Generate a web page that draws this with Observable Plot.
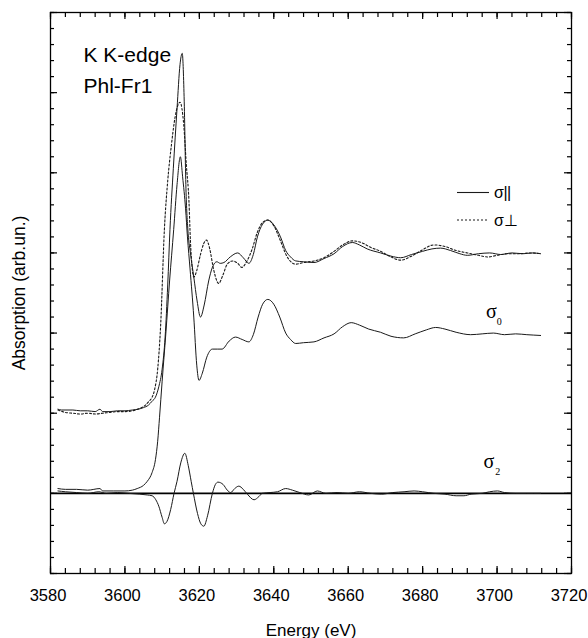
<!DOCTYPE html>
<html>
<head>
<meta charset="utf-8">
<script src="https://cdn.jsdelivr.net/npm/d3@7"></script>
<script src="https://cdn.jsdelivr.net/npm/@observablehq/plot@0.6"></script>
<style>
  html, body { margin: 0; padding: 0; background: #fff; }
  #wrap { position: relative; width: 588px; height: 638px; overflow: hidden; font-family: 'Liberation Sans', Arial, Helvetica, sans-serif; }
  #legend { position: absolute; left: 0; top: 0; pointer-events: none; }
</style>
</head>
<body>
<div id="wrap"><div id="chart"></div>
<svg id="legend" width="588" height="638"></svg></div>
<script>
// ---- data (energy eV, absorption arb. units) ----
const sigmaPar = [
[3582,1.05],[3583,1.04],[3586,1.04],[3588,1.03],[3590,1.03],[3592,1.02],[3593.3,1.05],[3594,1.02],[3596,1.02],[3598,1.03],[3600,1.03],[3602,1.04],[3603.5,1.05],[3605,1.07],[3606.3,1.1],[3607.3,1.15],[3608.2,1.2],[3609.1,1.33],[3610,1.55],[3610.8,1.95],[3611.5,2.6],[3612.1,3.29],[3613,4.05],[3614,4.8],[3614.8,5.35],[3615.4,5.49],[3615.9,4.95],[3616.4,3.8],[3616.9,3.3],[3617.6,3.0],[3618.5,2.7],[3619.4,2.4],[3620.3,2.2],[3621.3,2.35],[3622.5,2.65],[3623.5,2.82],[3624.7,2.89],[3625.6,2.87],[3626.6,2.88],[3628.3,2.95],[3630.3,3.0],[3631.8,2.94],[3633.3,2.87],[3634.5,2.98],[3635.6,3.2],[3637,3.36],[3638.4,3.41],[3640,3.35],[3641.8,3.2],[3643.2,3.03],[3644.5,2.95],[3645.9,2.9],[3648,2.89],[3650.8,2.88],[3653.5,2.93],[3656.2,2.99],[3658.5,3.08],[3661.1,3.13],[3663,3.1],[3665.1,3.05],[3668.7,3.0],[3671.5,2.96],[3674.1,2.94],[3677,2.98],[3680,3.02],[3682.5,3.05],[3684.8,3.06],[3687.5,3.03],[3690,2.99],[3692,2.97],[3695,2.99],[3698,3.0],[3701,2.98],[3704,3.0],[3707,2.99],[3709.5,3.0],[3711.7,2.99]
];
const sigmaPerp = [
[3582,1.04],[3584,1.01],[3586,1.0],[3588,0.99],[3590,1.0],[3592,0.99],[3594,1.0],[3596,1.01],[3598,1.02],[3600,1.02],[3602,1.03],[3604,1.06],[3605.5,1.1],[3606.5,1.15],[3607.3,1.2],[3608,1.3],[3608.8,1.55],[3609.6,2.1],[3610.6,3.29],[3611.5,3.9],[3612.5,4.35],[3613.5,4.7],[3614.8,4.88],[3615.8,4.6],[3616.5,4.1],[3617.2,3.65],[3617.6,3.15],[3618.0,2.85],[3618.5,2.7],[3619.3,2.78],[3620.3,2.98],[3621.2,3.12],[3621.9,3.16],[3622.8,3.05],[3623.8,2.8],[3625.2,2.62],[3626.3,2.72],[3627.5,2.86],[3629,2.9],[3630.3,2.87],[3631.4,2.82],[3632.8,2.9],[3634.2,3.05],[3635.6,3.26],[3637,3.38],[3638.4,3.41],[3640,3.34],[3641.8,3.15],[3643.5,2.96],[3645.9,2.86],[3648,2.88],[3650.8,2.9],[3653.5,2.94],[3656.2,3.02],[3658.5,3.1],[3661.1,3.15],[3663.5,3.13],[3666,3.07],[3668.7,3.02],[3671.5,2.95],[3674.1,2.91],[3677,2.96],[3680,3.04],[3683,3.1],[3686,3.08],[3689,3.03],[3692,3.0],[3695,2.97],[3697.5,2.95],[3700,2.97],[3703,2.99],[3706,2.99],[3709,3.0],[3711.7,2.99]
];
const sigma0 = [
[3582,0.06],[3584,0.05],[3587,0.05],[3590,0.04],[3593.3,0.06],[3594,0.03],[3597,0.03],[3600,0.03],[3602,0.04],[3603.3,0.06],[3605,0.1],[3606,0.15],[3607.3,0.26],[3608.2,0.42],[3608.8,0.65],[3609.3,0.95],[3610,1.4],[3611,2.0],[3612,2.65],[3613.1,3.29],[3614,3.85],[3614.9,4.2],[3615.5,3.95],[3616.3,3.55],[3616.8,3.2],[3617.5,2.8],[3618.5,2.2],[3619.3,1.6],[3619.9,1.41],[3620.8,1.5],[3622,1.7],[3623.5,1.8],[3624.8,1.8],[3626.1,1.8],[3628,1.9],[3629.7,1.95],[3631.5,1.92],[3633.3,1.89],[3634.5,1.98],[3635.8,2.2],[3637,2.36],[3638.4,2.42],[3640,2.36],[3641.6,2.2],[3643.2,2.0],[3644.5,1.92],[3645.9,1.87],[3648,1.88],[3650.8,1.89],[3653.5,1.94],[3656.2,1.99],[3658.5,2.08],[3660.8,2.13],[3663,2.1],[3665.5,2.05],[3668.7,2.01],[3671.5,1.96],[3674.9,1.94],[3678,1.99],[3681,2.04],[3683.5,2.07],[3686,2.05],[3689,2.01],[3692.9,1.98],[3696,1.99],[3699,2.0],[3702,1.98],[3705,1.99],[3708,1.98],[3711.7,1.97]
];
const sigma2 = [
[3582,0.03],[3584,0.02],[3587,0.01],[3590,0.0],[3593,0.02],[3595,0.0],[3598,0.01],[3601,0.0],[3604,-0.01],[3606,-0.02],[3607.3,-0.03],[3608.3,-0.08],[3609.1,-0.16],[3610,-0.3],[3610.6,-0.38],[3611.3,-0.35],[3612.3,-0.2],[3613.2,0.0],[3614,0.15],[3615,0.38],[3616.1,0.5],[3617,0.35],[3617.8,0.15],[3618.4,0.0],[3619.5,-0.25],[3620.4,-0.38],[3621.2,-0.41],[3622.2,-0.28],[3623.5,0.0],[3624.3,0.11],[3625,0.14],[3626.4,0.11],[3627.5,0.04],[3628.4,0.01],[3629.5,0.06],[3630.6,0.09],[3631.8,0.05],[3632.9,-0.01],[3634.7,-0.08],[3636,-0.04],[3636.9,0.0],[3639,0.01],[3641,0.02],[3643.2,0.06],[3645,0.04],[3647,0.01],[3649.4,-0.02],[3651.7,0.03],[3654,0.0],[3657,0.01],[3660,0.0],[3663,0.02],[3666,0.0],[3669,-0.01],[3672,0.01],[3675,0.02],[3677.7,0.03],[3680,0.02],[3683,0.0],[3686,-0.01],[3689,-0.03],[3691.1,-0.03],[3693,-0.01],[3696,0.0],[3698,0.02],[3700.1,0.03],[3702,0.01],[3705,0.0],[3708,0.0],[3711.7,0.0]
];

const xMajorTicks = [3580, 3600, 3620, 3640, 3660, 3680, 3700, 3720];
const xMinorTicks = d3.range(3580, 3721, 4);
const yMajorTicks = [-1, 0, 1, 2, 3, 4, 5, 6];
const yMinorTicks = d3.range(-1, 6.001, 0.2).map(v => +v.toFixed(2));

const titleLines = ["K K-edge\nPhl-Fr1"];
const xLabel = "Energy (eV)";
const yLabel = "Absorption (arb.un.)";
const curveLabels = [
  {name: "σ", sub: "0", x: 3698.5, y: 2.27, xs: 3700.6, ys: 2.14},
  {name: "σ", sub: "2", x: 3697.8, y: 0.40, xs: 3700.2, ys: 0.27}
];
const legendItems = [
  {label: "σ||", dash: null},
  {label: "σ⊥", dash: "2,2"}
];

const toObj = arr => arr.map(([e, v]) => ({e, v}));
const ink = "#1a1a1a";

const W = 588, H = 638, mT = 12, mB = 65, mL = 50, mR = 17;
const innerW = W - mL - mR, innerH = H - mT - mB;
const minorLen = 5, majorLen = 7, yMinorLen = 4, yMajorLen = 7;
const tickStyle = {stroke: "#000", strokeWidth: 1.2};

const plot = Plot.plot({
  width: W,
  height: H,
  marginTop: mT,
  marginBottom: mB,
  marginLeft: mL,
  marginRight: mR,
  x: {domain: [3580, 3720], axis: null},
  y: {domain: [-1, 6], axis: null},
  style: {fontFamily: "'Liberation Sans', Arial, Helvetica, sans-serif", fontSize: "16.5px", color: "#000", background: "#fff"},
  marks: [
    Plot.ruleY([0], {stroke: "#000", strokeWidth: 1.6}),
    Plot.line(toObj(sigma2), {x: "e", y: "v", stroke: ink, strokeWidth: 1, curve: "monotone-x"}),
    Plot.line(toObj(sigma0), {x: "e", y: "v", stroke: ink, strokeWidth: 1, curve: "monotone-x"}),
    Plot.line(toObj(sigmaPerp), {x: "e", y: "v", stroke: ink, strokeWidth: 1.1, strokeDasharray: "2,2", curve: "monotone-x"}),
    Plot.line(toObj(sigmaPar), {x: "e", y: "v", stroke: ink, strokeWidth: 1, curve: "monotone-x"}),
    // inward ticks on all four sides
    Plot.tickX(xMinorTicks, {x: d => d, insetTop: innerH - minorLen, ...tickStyle}),
    Plot.tickX(xMajorTicks, {x: d => d, insetTop: innerH - majorLen, ...tickStyle}),
    Plot.tickX(xMinorTicks, {x: d => d, insetBottom: innerH - minorLen, ...tickStyle}),
    Plot.tickX(xMajorTicks, {x: d => d, insetBottom: innerH - majorLen, ...tickStyle}),
    Plot.tickY(yMinorTicks, {y: d => d, insetRight: innerW - yMinorLen, ...tickStyle}),
    Plot.tickY(yMajorTicks, {y: d => d, insetRight: innerW - yMajorLen, ...tickStyle}),
    Plot.tickY(yMinorTicks, {y: d => d, insetLeft: innerW - yMinorLen, ...tickStyle}),
    Plot.tickY(yMajorTicks, {y: d => d, insetLeft: innerW - yMajorLen, ...tickStyle}),
    // tick labels
    Plot.axisX(xMajorTicks, {anchor: "bottom", tickSize: 0, tickPadding: 16, dx: -2.5, tickFormat: d => String(d), label: null, fontSize: 16.5, fill: "#000"}),
    Plot.frame({stroke: "#000", strokeWidth: 1.3}),
    // axis titles
    Plot.text([xLabel], {frameAnchor: "bottom", dy: 62, fontSize: 17, fill: "#000"}),
    Plot.text([yLabel], {frameAnchor: "left", dx: -31, rotate: -90, textAnchor: "middle", fontSize: 17.5, fill: "#000"}),
    // sample title
    Plot.text(titleLines, {frameAnchor: "top-left", dx: 33, dy: 27, textAnchor: "start", lineAnchor: "top", lineHeight: 1.48, fontSize: 21, fill: "#000"}),
    // curve labels
    Plot.text(curveLabels, {x: "x", y: "y", text: "name", fontSize: 20, fontFamily: "'Liberation Serif', 'DejaVu Serif', serif", fill: "#000"}),
    Plot.text(curveLabels, {x: "xs", y: "ys", text: "sub", fontSize: 10, fontFamily: "'Liberation Serif', 'DejaVu Serif', serif", fill: "#000"})
  ]
});
document.getElementById("chart").appendChild(plot);

// legend overlay
const lg = d3.select("#legend");
legendItems.forEach((d, i) => {
  const y = 192.5 + i * 27.5;
  lg.append("line").attr("x1", 457).attr("x2", 489).attr("y1", y).attr("y2", y)
    .attr("stroke", ink).attr("stroke-width", 1.1)
    .attr("stroke-dasharray", d.dash);
  lg.append("text").attr("x", 494).attr("y", y + 5.5)
    .attr("font-family", "'Liberation Sans', Arial, sans-serif").attr("font-size", 16)
    .attr("letter-spacing", d.dash ? 0 : -0.5)
    .attr("fill", "#000").text(d.label);
});
</script>
</body>
</html>
